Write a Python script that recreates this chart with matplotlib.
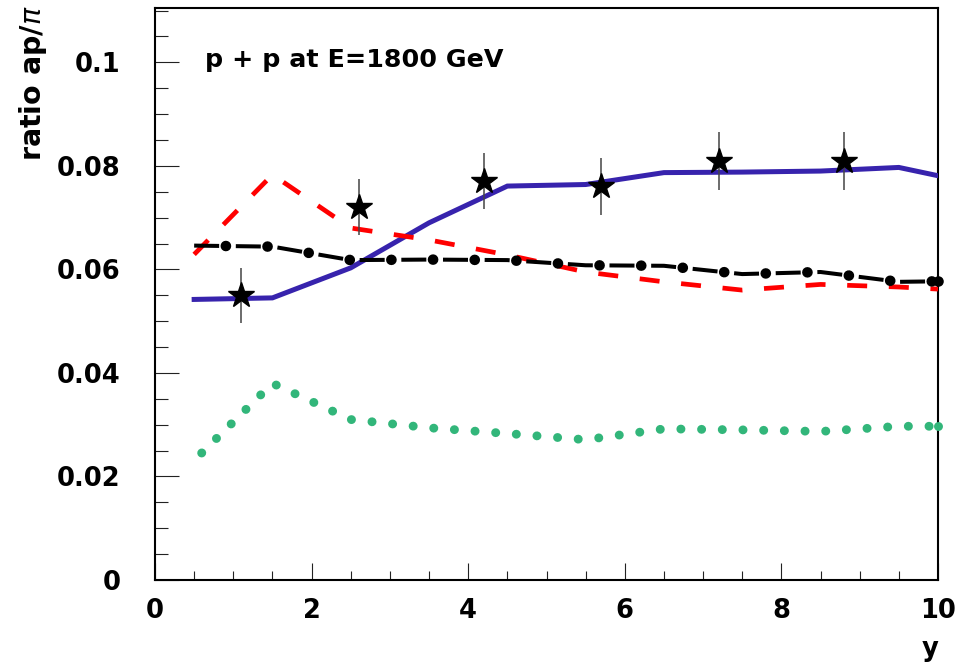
import numpy as np
import matplotlib
matplotlib.use("Agg")
import matplotlib.pyplot as plt
from matplotlib.ticker import MultipleLocator, StrMethodFormatter

# model curves, sampled at rapidity bin centres
y_model = [0.5, 1.5, 2.5, 3.5, 4.5, 5.5, 6.5, 7.5, 8.5, 9.5, 10.0]
ratio_blue = [0.0542, 0.0545, 0.0603, 0.0690, 0.0761, 0.0764, 0.0787, 0.0788, 0.0790, 0.0797, 0.0781]
ratio_red = [0.0629, 0.0783, 0.0680, 0.0657, 0.0628, 0.0595, 0.0576, 0.0560, 0.0571, 0.0566, 0.0562]
ratio_black = [0.0646, 0.0644, 0.0618, 0.0619, 0.0618, 0.0608, 0.0607, 0.0591, 0.0595, 0.0576, 0.0577]
ratio_green = [0.0231, 0.0380, 0.0310, 0.0294, 0.0283, 0.0271, 0.0292, 0.0290, 0.0287, 0.0297, 0.0297]

# measured points
y_data = [1.1, 2.6, 4.2, 5.7, 7.2, 8.8]
ratio_data = [0.0550, 0.0720, 0.0770, 0.0761, 0.0810, 0.0810]
ratio_err = [0.0053, 0.0054, 0.0054, 0.0055, 0.0056, 0.0056]

plt.rcParams["font.family"] = "DejaVu Sans"
plt.rcParams["font.weight"] = "bold"
plt.rcParams["lines.scale_dashes"] = False
plt.rcParams["mathtext.fontset"] = "custom"
plt.rcParams["mathtext.it"] = "DejaVu Sans:style=italic:weight=normal"
plt.rcParams["mathtext.rm"] = "DejaVu Sans:weight=bold"

fig = plt.figure(figsize=(9.7, 6.63), dpi=100)
ax = fig.add_axes([155 / 970, 1 - 580 / 663, 783 / 970, 572 / 663])

ax.plot(y_model, ratio_blue, color="#3723ad", lw=3.6, solid_joinstyle="miter", zorder=3)
ax.plot(y_model, ratio_red, color="#ff0000", lw=3.4, linestyle=(0, (14.4, 15.6)),
        dash_capstyle="butt", zorder=3)

# dash-dot curve: long dashes plus round dots in the gaps
ax.plot(y_model, ratio_black, color="black", lw=2.9, linestyle=(0, (18, 12)),
        dash_capstyle="butt", zorder=3)
ax.plot(y_model, ratio_black, color="black", lw=7.6, linestyle=(7.2, (0.1, 29.9)),
        dash_capstyle="round", marker="o", ms=7.6, markevery=[-1], mew=0,
        clip_on=False, zorder=3)

# dotted curve
ax.plot(y_model, ratio_green, color="#32b67a", lw=6.4, linestyle=(7.3, (0.1, 14.8)),
        dash_capstyle="round", marker="o", ms=6.4, markevery=[-1], mew=0,
        clip_on=False, zorder=3)

ax.errorbar(y_data, ratio_data, yerr=ratio_err, fmt="*", color="black", ms=19,
            ecolor="#444444", elinewidth=1.1, capsize=0, zorder=5)

ax.set_xlim(0, 10)
ax.set_ylim(0, 0.1105)
ax.xaxis.set_major_locator(MultipleLocator(2))
ax.xaxis.set_minor_locator(MultipleLocator(0.5))
ax.yaxis.set_major_locator(MultipleLocator(0.02))
ax.yaxis.set_minor_locator(MultipleLocator(0.005))
ax.xaxis.set_major_formatter(StrMethodFormatter("{x:g}"))
ax.yaxis.set_major_formatter(StrMethodFormatter("{x:g}"))

ax.tick_params(axis="x", which="both", direction="in", top=False, labelsize=18.5, pad=13,
               width=0.8, color="#222222")
ax.tick_params(axis="x", which="major", length=12.5)
ax.tick_params(axis="x", which="minor", length=6.5)
ax.tick_params(axis="y", which="both", direction="in", right=False, labelsize=18.5, pad=25,
               width=0.8, color="#222222")
ax.tick_params(axis="y", which="major", length=17)
ax.tick_params(axis="y", which="minor", length=9)
for lab in ax.get_xticklabels() + ax.get_yticklabels():
    lab.set_fontweight("bold")

for sp in ax.spines.values():
    sp.set_linewidth(1.5)
    sp.set_color("black")

fig.text(205 / 970, 1 - 67 / 663, "p + p at E=1800 GeV", fontsize=18.3, fontweight="bold",
         va="baseline", ha="left")
fig.text(33 / 970, 1 - 5 / 663, r"ratio ap/$\pi$", fontsize=20.5, fontweight="bold",
         rotation=90, ha="center", va="top")
fig.text(930 / 970, 1 - 636 / 663, "y", fontsize=18.5, fontweight="bold",
         ha="center", va="top")

fig.savefig("out.png", dpi=100)
